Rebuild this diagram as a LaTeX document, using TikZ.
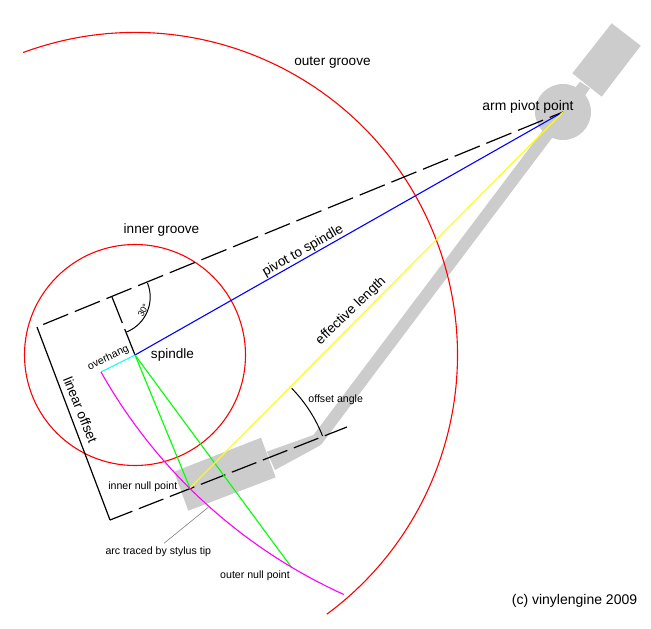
\documentclass[tikz,border=0pt]{standalone}
\usepackage{fontspec}
\setmainfont{Liberation Sans}
\definecolor{armgray}{HTML}{CCCCCC}
\definecolor{linered}{HTML}{FF0000}
\definecolor{lineblue}{HTML}{0000FF}
\definecolor{linecyan}{HTML}{00FFFF}
\definecolor{linegreen}{HTML}{00FF00}
\definecolor{lineyellow}{HTML}{FFFF00}
\definecolor{linemagenta}{HTML}{FF00FF}
\tikzset{
  refline/.style={line width=1.2pt,black},
  groove/.style={line width=1.1pt,linered},
  geom/.style={line width=1.1pt},
  bigtext/.style={font=\fontsize{13.6}{15}\selectfont,inner sep=0pt},
  smalltext/.style={font=\fontsize{10.6}{13}\selectfont,inner sep=0pt},
}
\begin{document}
\begin{tikzpicture}[x=1pt,y=-1pt]
\useasboundingbox (0,0) rectangle (651,629);
\coordinate (pivot) at (563,112);
\coordinate (spindle) at (135,355);
\coordinate (innernull) at (190,488);
\coordinate (outernull) at (292,568);
\coordinate (tip) at (101,372);
\coordinate (cornerA) at (37,327);
\coordinate (cornerB) at (110,520);
\coordinate (cornerC) at (112,297);
\coordinate (lineend) at (347,427);
\coordinate (leaderA) at (208.3,507.3);
\coordinate (leaderB) at (164,543.3);
\coordinate (angleA) at (147.5,283);
\coordinate (offsetA) at (291.7,388.3);
\fill [armgray] (611.7,23.3) -- (640.7,45.7) -- (601.7,96.7) -- (572.3,73.3) -- cycle;
\fill [armgray] (580,81.7) -- (590,88.3) -- (575,110) -- (565,100) -- cycle;
\fill [armgray] (pivot) circle (28);
\fill [armgray] (313.4,435) -- (556.6,112) -- (571.6,112) -- (320.9,445) -- cycle;
\fill [armgray] (266.7,451.7) -- (313.4,435) -- (320.9,445) -- (275,470) -- cycle;
\fill [armgray] (261,437.7) -- (275.7,477.3) -- (188.3,510.7) -- (174,471.7) -- cycle;
\draw [groove] (spindle) circle (110.5);
\draw [groove] ([shift={(-110.3:322.5)}]spindle) arc [start angle=-110.3,end angle=53.5,radius=322.5];
\draw [refline,dash pattern=on 27 off 7.2,dash phase=12.6] (pivot) -- (cornerA);
\draw [refline] (cornerA) -- (cornerB);
\draw [refline,dash pattern=on 26.3 off 7,dash phase=2.3] (cornerB) -- (lineend);
\draw [refline,dash pattern=on 28 off 6.5 on 40 off 0] (cornerC) -- (spindle);
\draw [line width=1pt] (angleA) arc [start angle=-21.8,end angle=68.2,radius=37.7];
\draw [line width=1pt] (offsetA) arc [start angle=-44.4,end angle=-21.4,radius=142.5];
\draw [geom,lineblue] (spindle) -- (pivot);
\draw [geom,linecyan] (tip) -- (spindle);
\draw [geom,linegreen] (spindle) -- (innernull);
\draw [geom,linegreen] (spindle) -- (outernull);
\draw [geom,lineyellow] (innernull) -- (pivot);
\draw [geom,linemagenta] (tip) arc [start angle=150.6,end angle=114.4,radius=530];
\draw [gray,line width=0.6pt] (leaderA) -- (leaderB);
\node [bigtext] (outergroovetxt) at (332.5,63) {outer groove};
\node [bigtext] (innergroovetxt) at (161.5,230) {inner groove};
\node [bigtext,font=\fontsize{13.9}{15}\selectfont] (armpivottxt) at (528,106.5) {arm pivot point};
\node [bigtext] (spindletxt) at (172.5,354.5) {spindle};
\node [bigtext,rotate=29.6] (pivottxt) at (303,251) {pivot to spindle};
\node [bigtext,rotate=44] (efflentxt) at (351,311) {effective length};
\node [bigtext,rotate=-68] (lineartxt) at (80.5,410) {linear offset};
\node [smalltext,rotate=26] (overhangtxt) at (108.3,358) {overhang};
\node [smalltext] (offsettxt) at (335.7,399.3) {offset angle};
\node [smalltext] (innernulltxt) at (142.8,486.7) {inner null point};
\node [smalltext] (outernulltxt) at (255,575.7) {outer null point};
\node [smalltext] (arctxt) at (158.3,551.7) {arc traced by stylus tip};
\node [inner sep=0pt,font=\fontsize{9}{10}\selectfont,rotate=62] (angletxt) at (143.3,310.5) {30°};
\node [bigtext,font=\fontsize{14}{15}\selectfont] (creditxt) at (574.5,601) {(c) vinylengine 2009};
\end{tikzpicture}
\end{document}
